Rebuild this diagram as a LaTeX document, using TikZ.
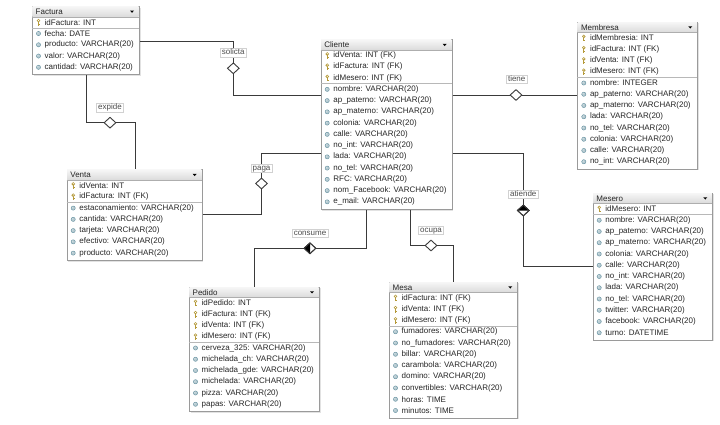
\documentclass[tikz,border=0pt]{standalone}
\usepackage{fontspec}
\setmainfont{Liberation Sans}
\usetikzlibrary{shapes.geometric,shadows}
\definecolor{linec}{HTML}{3A3A3A}
\definecolor{boxc}{HTML}{9A9A9A}
\definecolor{hdrtop}{HTML}{F6F6F6}
\definecolor{hdrbot}{HTML}{DADADA}
\definecolor{keyc}{HTML}{B59A3A}
\definecolor{attc}{HTML}{5E8C9C}
\definecolor{txtc}{HTML}{262626}
\tikzset{
  entbox/.style={draw=boxc, fill=white, line width=0.8pt, inner sep=0pt, anchor=north west,
    drop shadow={shadow xshift=1.3pt, shadow yshift=-1.3pt, fill=black!22}},
  rowtxt/.style={anchor=west, inner sep=0pt, text=txtc, font=\fontsize{8}{9.6}\selectfont},
  hdrtxt/.style={anchor=west, inner sep=0pt, text=txtc, font=\fontsize{8}{9.6}\selectfont},
  conn/.style={draw=linec, line width=0.8pt},
  dia/.style={diamond, draw=linec, fill=white, line width=0.9pt, minimum width=12pt, minimum height=11pt, inner sep=0pt},
  rel/.style={draw=black!18, fill=white, text=black!70, font=\fontsize{8}{9}\selectfont,
    inner xsep=1.6pt, inner ysep=0.6pt, text height=5.9pt, text depth=1.4pt}
}
\newcommand\keyicon[2]{%
  \fill[keyc] (#1,{#2-1.6}) circle (1.8pt);
  \fill[white] (#1,{#2-1.8}) circle (0.6pt);
  \fill[keyc] ({#1-0.6},{#2-0.2}) rectangle ({#1+0.6},{#2+3.4});
  \fill[keyc] ({#1+0.6},{#2+1.6}) rectangle ({#1+1.4},{#2+2.4});
}
\newcommand\atticon[2]{%
  \filldraw[draw=attc, fill=attc!45, line width=0.4pt] (#1,#2) circle (2.1pt);
  \fill[white!70!attc] ({#1-0.6},{#2-0.6}) circle (0.8pt);
}
% #1 name, #2 left, #3 top, #4 width, #5 rows, #6 keys, #7 title, #8 rows list
\newcommand\ent[8]{%
  \pgfmathsetmacro\entH{12.05+11.25*#5}
  \node[entbox, minimum width=#4pt, minimum height=\entH pt] (#1) at (#2,#3) {};
  \shade[top color=hdrtop, bottom color=hdrbot] ({#2+0.4},{#3+0.4}) rectangle ({#2+#4-0.4},{#3+11});
  \draw[boxc!80, line width=0.5pt] (#2,{#3+11}) -- ({#2+#4},{#3+11});
  \node[hdrtxt] (#1-title) at ({#2+3.5},{#3+5.6}) {#7};
  \fill[black] ({#2+#4-9},{#3+4.6}) -- ({#2+#4-5},{#3+4.6}) -- ({#2+#4-7},{#3+6.8}) -- cycle;
  \pgfmathsetmacro\sepY{#3+16.3+(#6-1)*11.25+5.6}
  \draw[boxc!70, line width=0.5pt] (#2,\sepY) -- ({#2+#4},\sepY);
  \foreach \t [count=\i] in {#8} {
    \pgfmathsetmacro\yy{#3+16.3+(\i-1)*11.25}
    \ifnum\i>#6 \atticon{#2+6.5}{\yy}\else\keyicon{#2+6.5}{\yy}\fi
    \node[rowtxt] (#1-r\i) at ({#2+12.5},\yy) {\t};
  }
}
\begin{document}
\begin{tikzpicture}[x=1pt,y=-1pt]
\useasboundingbox (0,0) rectangle (720,425);
\fill[white] (0,0) rectangle (720,425);

\ent{fac}{32}{6}{107}{5}{1}{Factura}{idFactura: INT, fecha: DATE, producto: VARCHAR(20), valor: VARCHAR(20), cantidad: VARCHAR(20)}
\ent{cli}{320.7}{39.3}{131}{14}{3}{Cliente}{idVenta: INT (FK), idFactura: INT (FK), idMesero: INT (FK), nombre: VARCHAR(20), ap\_paterno: VARCHAR(20), ap\_materno: VARCHAR(20), colonia: VARCHAR(20), calle: VARCHAR(20), no\_int: VARCHAR(20), lada: VARCHAR(20), no\_tel: VARCHAR(20), RFC: VARCHAR(20), nom\_Facebook: VARCHAR(20), e\_mail: VARCHAR(20)}
\ent{mem}{577.3}{21.7}{120}{12}{4}{Membresa}{idMembresia: INT, idFactura: INT (FK), idVenta: INT (FK), idMesero: INT (FK), nombre: INTEGER, ap\_paterno: VARCHAR(20), ap\_materno: VARCHAR(20), lada: VARCHAR(20), no\_tel: VARCHAR(20), colonia: VARCHAR(20), calle: VARCHAR(20), no\_int: VARCHAR(20)}
\ent{ven}{66.7}{169.3}{135}{7}{2}{Venta}{idVenta: INT, idFactura: INT (FK), estaconamiento: VARCHAR(20), cantida: VARCHAR(20), tarjeta: VARCHAR(20), efectivo: VARCHAR(20), producto: VARCHAR(20)}
\ent{mes}{592.7}{192.7}{119.6}{12}{1}{Mesero}{idMesero: INT, nombre: VARCHAR(20), ap\_paterno: VARCHAR(20), ap\_materno: VARCHAR(20), colonia: VARCHAR(20), calle: VARCHAR(20), no\_int: VARCHAR(20), lada: VARCHAR(20), no\_tel: VARCHAR(20), twitter: VARCHAR(20), facebook: VARCHAR(20), turno: DATETIME}
\ent{ped}{189}{286.7}{130}{10}{4}{Pedido}{idPedido: INT, idFactura: INT (FK), idVenta: INT (FK), idMesero: INT (FK), cerveza\_325: VARCHAR(20), michelada\_ch: VARCHAR(20), michelada\_gde: VARCHAR(20), michelada: VARCHAR(20), pizza: VARCHAR(20), papas: VARCHAR(20)}
\ent{msa}{389}{281.7}{128.3}{11}{3}{Mesa}{idFactura: INT (FK), idVenta: INT (FK), idMesero: INT (FK), fumadores: VARCHAR(20), no\_fumadores: VARCHAR(20), billar: VARCHAR(20), carambola: VARCHAR(20), domino: VARCHAR(20), convertibles: VARCHAR(20), horas: TIME, minutos: TIME}

% relationship diamonds (positions)
\coordinate (exp) at (110,122.7);
\coordinate (sol) at (233.3,68.3);
\coordinate (tie) at (516,95);
\coordinate (pag) at (261.5,183.5);
\coordinate (ati) at (523.3,210.5);
\coordinate (con) at (310,248.3);
\coordinate (ocu) at (431,245.5);

% connectors
\draw[conn] (fac.south -| 86,0) |- (exp) -| (ven.north -| 135,0);
\draw[conn] (fac.east |- 0,41.7) -| (sol) |- (cli.west |- 0,95);
\draw[conn] (cli.east |- 0,95) -- (mem.west |- 0,95);
\draw[conn] (cli.west |- 0,153) -| (pag) |- (ven.east |- 0,214.3);
\draw[conn] (cli.east |- 0,153.3) -| (ati) |- (mes.west |- 0,266.7);
\draw[conn] (cli.south -| 366,0) |- (con) -| (ped.north -| 254,0);
\draw[conn] (cli.south -| 410.5,0) |- (ocu) -| (msa.north -| 453.3,0);

% diamonds
\node[dia] (d-exp) at (exp) {};
\node[dia] (d-sol) at (sol) {};
\node[dia] (d-tie) at (tie) {};
\node[dia] (d-pag) at (pag) {};
\node[dia] (d-ati) at (ati) {};
\fill[black] (d-ati.west) -- (d-ati.north) -- (d-ati.east) -- cycle;
\node[dia, fill=none] at (ati) {};
\node[dia] (d-con) at (con) {};
\fill[black] (d-con.north) -- (d-con.west) -- (d-con.south) -- cycle;
\node[dia, fill=none] at (con) {};
\node[dia] (d-ocu) at (ocu) {};

% labels
\node[rel] (l-exp) at (110,107.7) {expide};
\node[rel] (l-sol) at (233.3,52.7) {solicta};
\node[rel] (l-tie) at (516.7,79.3) {tiene};
\node[rel] (l-pag) at (261.5,168) {paga};
\node[rel] (l-ati) at (523.3,194.3) {atiende};
\node[rel] (l-con) at (310,233.3) {consume};
\node[rel] (l-ocu) at (431,230) {ocupa};
\end{tikzpicture}
\end{document}
